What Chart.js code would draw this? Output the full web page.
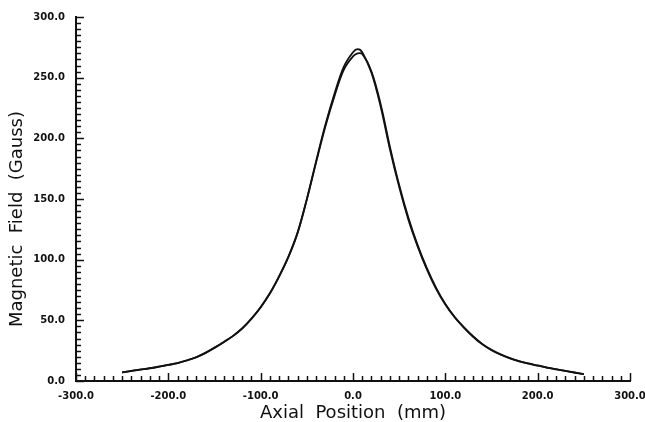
<!DOCTYPE html>
<html>
<head>
<meta charset="utf-8">
<script src="https://cdn.jsdelivr.net/npm/chart.js@4/dist/chart.umd.min.js"></script>
<style>
  html, body { margin: 0; padding: 0; background: #fff; }
  #wrap { width: 645px; height: 422px; }
</style>
</head>
<body>
<div id="wrap"><canvas id="fieldChart"></canvas></div>
<script>
// axial positions (mm)
const positions = [-250, -240, -230, -220, -210, -200, -190, -180, -170, -160,
  -150, -140, -130, -120, -110, -100, -90, -80, -70, -60,
  -50, -40, -30, -20, -10, 0, 5, 10, 20, 30,
  40, 50, 60, 70, 80, 90, 100, 110, 120, 130,
  140, 150, 160, 170, 180, 190, 200, 210, 220, 230, 240, 250];

// measured field (Gauss)
const measured = [7.0, 8.4, 9.5, 10.6, 11.9, 13.3, 14.8, 17.0, 19.6, 23.2,
  27.5, 32.2, 37.2, 43.5, 51.5, 61.0, 72.5, 86.5, 102.5, 122.5,
  150.0, 181.0, 211.0, 237.0, 259.0, 271.0, 273.5, 271.0, 254.0, 226.0,
  191.0, 160.0, 133.0, 111.0, 92.0, 76.0, 63.0, 52.5, 44.0, 36.5,
  30.2, 25.4, 21.6, 18.6, 16.2, 14.3, 12.7, 11.0, 9.6, 8.3, 6.9, 5.6];

// calculated field (Gauss)
const calculated = [7.0, 8.3, 9.4, 10.5, 11.8, 13.2, 14.7, 16.9, 19.5, 23.0,
  27.3, 32.0, 37.0, 43.2, 51.2, 60.6, 72.0, 86.0, 102.0, 122.0,
  149.5, 180.0, 209.5, 235.0, 256.5, 267.5, 270.0, 269.5, 255.0, 228.0,
  193.0, 161.5, 134.5, 112.0, 93.0, 76.8, 63.5, 53.0, 44.5, 37.0,
  30.6, 25.7, 21.9, 18.8, 16.4, 14.5, 12.8, 11.1, 9.7, 8.4, 7.0, 5.7];

const xTicks = [-300, -200, -100, 0, 100, 200, 300];
const yTicks = [0, 50, 100, 150, 200, 250, 300];

const toPoints = (ys) => positions.map((x, i) => ({ x, y: ys[i] }));

// inward tick marks, major + minor
const innerTicks = {
  id: "innerTicks",
  afterDraw(chart) {
    const { ctx, scales: { x, y } } = chart;
    ctx.save();
    ctx.strokeStyle = "#111";
    ctx.lineWidth = 1.5;
    ctx.beginPath();
    for (let v = -300; v <= 300; v += 10) {
      const px = Math.round(x.getPixelForValue(v)) + 0.5;
      const len = v % 100 === 0 ? 8 : 5;
      ctx.moveTo(px, y.bottom);
      ctx.lineTo(px, y.bottom - len);
    }
    for (let v = 0; v <= 300; v += 5) {
      const py = Math.round(y.getPixelForValue(v)) + 0.5;
      const len = v % 50 === 0 ? 8 : 5;
      ctx.moveTo(x.left, py);
      ctx.lineTo(x.left + len, py);
    }
    ctx.stroke();
    ctx.restore();
  }
};

const lineStyle = {
  showLine: true,
  borderColor: "#111",
  borderWidth: 1.8,
  pointRadius: 0,
  tension: 0.35,
  fill: false
};

new Chart(document.getElementById("fieldChart"), {
  type: "scatter",
  data: {
    datasets: [
      { label: "Measured", data: toPoints(measured), ...lineStyle },
      { label: "Calculated", data: toPoints(calculated), ...lineStyle }
    ]
  },
  options: {
    responsive: true,
    maintainAspectRatio: false,
    animation: false,
    layout: { padding: { left: 0, right: 15, top: 17, bottom: 0 } },
    plugins: { legend: { display: false }, tooltip: { enabled: false } },
    scales: {
      x: {
        type: "linear",
        min: -300,
        max: 300,
        afterBuildTicks: (s) => { s.ticks = xTicks.map(v => ({ value: v })); },
        afterFit: (s) => { s.height = 41; s.paddingLeft = 0; s.paddingRight = 0; },
        grid: { display: false, drawTicks: false },
        border: { display: true, color: "#111", width: 2 },
        ticks: {
          padding: 9,
          color: "#111",
          maxRotation: 0,
          font: { family: "DejaVu Sans", size: 10, weight: "bold" },
          callback: (v) => v.toFixed(1)
        },
        title: {
          display: true,
          text: "Axial  Position  (mm)",
          color: "#111",
          padding: { top: 0, bottom: -2 },
          font: { family: "DejaVu Sans", size: 18 }
        }
      },
      y: {
        type: "linear",
        min: 0,
        max: 300,
        afterBuildTicks: (s) => { s.ticks = yTicks.map(v => ({ value: v })); },
        afterFit: (s) => { s.width = 76; s.paddingTop = 0; s.paddingBottom = 0; },
        grid: { display: false, drawTicks: false },
        border: { display: true, color: "#111", width: 2 },
        ticks: {
          padding: 11,
          color: "#111",
          font: { family: "DejaVu Sans", size: 10, weight: "bold" },
          callback: (v) => v.toFixed(1)
        },
        title: {
          display: true,
          text: "Magnetic  Field  (Gauss)       ",
          color: "#111",
          padding: { top: 7, bottom: 0 },
          font: { family: "DejaVu Sans", size: 18 }
        }
      }
    }
  },
  plugins: [innerTicks]
});
</script>
</body>
</html>
